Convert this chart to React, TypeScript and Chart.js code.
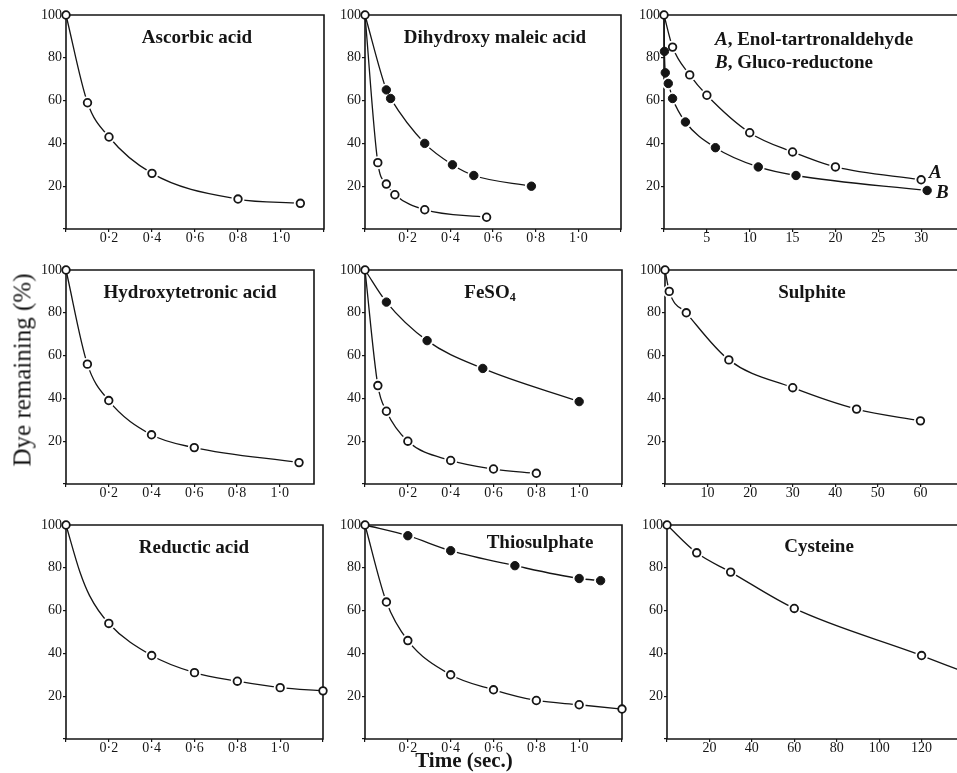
import React, { useEffect, useRef } from 'react';
import { Chart, registerables } from 'chart.js';
Chart.register(...registerables);

// ---------- data (time, % dye remaining) ----------
const ascorbicTime = [0, 0.1, 0.2, 0.4, 0.8, 1.09];
const ascorbicDye = [100, 59, 43, 26, 14, 12];

const dhmFilledTime = [0.1, 0.12, 0.28, 0.41, 0.51, 0.78];
const dhmFilledDye = [65, 61, 40, 30, 25, 20];
const dhmOpenTime = [0, 0.06, 0.1, 0.14, 0.28, 0.57];
const dhmOpenDye = [100, 31, 21, 16, 9, 5.5];

const enolTime = [0, 1, 3, 5, 10, 15, 20, 30];
const enolDye = [100, 85, 72, 62.5, 45, 36, 29, 23];
const glucoTime = [0.05, 0.15, 0.5, 1, 2.5, 6, 11, 15.4, 30.7];
const glucoDye = [83, 73, 68, 61, 50, 38, 29, 25, 18];

const hydroxyTime = [0, 0.1, 0.2, 0.4, 0.6, 1.09];
const hydroxyDye = [100, 56, 39, 23, 17, 10];

const feFilledTime = [0.1, 0.29, 0.55, 1.0];
const feFilledDye = [85, 67, 54, 38.5];
const feOpenTime = [0, 0.06, 0.1, 0.2, 0.4, 0.6, 0.8];
const feOpenDye = [100, 46, 34, 20, 11, 7, 5];

const sulphiteTime = [0, 1, 5, 15, 30, 45, 60];
const sulphiteDye = [100, 90, 80, 58, 45, 35, 29.5];

const reducticTime = [0, 0.2, 0.4, 0.6, 0.8, 1.0, 1.2];
const reducticDye = [100, 54, 39, 31, 27, 24, 22.5];
// points (no marker)
const reducticCurveTime = [0.065, 0.11];
const reducticCurveDye = [78, 67];

const thioFilledTime = [0.2, 0.4, 0.7, 1.0, 1.1];
const thioFilledDye = [95, 88, 81, 75, 74];
const thioOpenTime = [0, 0.1, 0.2, 0.4, 0.6, 0.8, 1.0, 1.2];
const thioOpenDye = [100, 64, 46, 30, 23, 18, 16, 14];

const cysteineTime = [0, 14, 30, 60, 120];
const cysteineDye = [100, 87, 78, 61, 39];
const cysteineCurveTime = [137];
const cysteineCurveDye = [32.5];

const decimalTicks = [0.2, 0.4, 0.6, 0.8, 1.0];
const yTicks = [20, 40, 60, 80, 100];

// ---------- panel descriptions ----------
type Series = {
  t: number[];
  v: number[];
  filled: boolean;
  fromOrigin?: boolean;
  guideT?: number[];
  guideV?: number[];
};
type Title = { parts: { text: string; italic?: boolean; sub?: boolean }[]; x: number; y: number; align: 'center' | 'left' };
type PanelCfg = {
  left: number; top: number; w: number; h: number; padRight: number;
  xMax: number; xStep: number; decimal: boolean; labelled: number[];
  series: Series[]; titles: Title[];
};

const ROW = [15, 270, 525];
const PH = 214;

const panels: PanelCfg[] = [
  {
    left: 66, top: ROW[0], w: 258, h: PH, padRight: 6, xMax: 1.2, xStep: 0.2, decimal: true, labelled: decimalTicks,
    series: [{ t: ascorbicTime, v: ascorbicDye, filled: false }],
    titles: [{ parts: [{ text: 'Ascorbic acid' }], x: 131, y: 23, align: 'center' }],
  },
  {
    left: 365, top: ROW[0], w: 256, h: PH, padRight: 6, xMax: 1.2, xStep: 0.2, decimal: true, labelled: decimalTicks,
    series: [
      { t: dhmFilledTime, v: dhmFilledDye, filled: true, fromOrigin: true },
      { t: dhmOpenTime, v: dhmOpenDye, filled: false },
    ],
    titles: [{ parts: [{ text: 'Dihydroxy maleic acid' }], x: 130, y: 23, align: 'center' }],
  },
  {
    left: 664, top: ROW[0], w: 300, h: PH, padRight: 0, xMax: 35, xStep: 5, decimal: false, labelled: [5, 10, 15, 20, 25, 30],
    series: [
      { t: enolTime, v: enolDye, filled: false },
      { t: glucoTime, v: glucoDye, filled: true, fromOrigin: true },
    ],
    titles: [
      { parts: [{ text: 'A', italic: true }, { text: ', Enol-tartronaldehyde' }], x: 51, y: 25, align: 'left' },
      { parts: [{ text: 'B', italic: true }, { text: ', Gluco-reductone' }], x: 51, y: 48, align: 'left' },
      { parts: [{ text: 'A', italic: true }], x: 265, y: 158, align: 'left' },
      { parts: [{ text: 'B', italic: true }], x: 272, y: 178, align: 'left' },
    ],
  },
  {
    left: 66, top: ROW[1], w: 248, h: PH, padRight: 6, xMax: 1.16, xStep: 0.2, decimal: true, labelled: decimalTicks,
    series: [{ t: hydroxyTime, v: hydroxyDye, filled: false }],
    titles: [{ parts: [{ text: 'Hydroxytetronic acid' }], x: 124, y: 23, align: 'center' }],
  },
  {
    left: 365, top: ROW[1], w: 257, h: PH, padRight: 6, xMax: 1.2, xStep: 0.2, decimal: true, labelled: decimalTicks,
    series: [
      { t: feFilledTime, v: feFilledDye, filled: true, fromOrigin: true },
      { t: feOpenTime, v: feOpenDye, filled: false },
    ],
    titles: [{ parts: [{ text: 'FeSO' }, { text: '4', sub: true }], x: 125, y: 23, align: 'center' }],
  },
  {
    left: 665, top: ROW[1], w: 298, h: PH, padRight: 0, xMax: 70, xStep: 10, decimal: false, labelled: [10, 20, 30, 40, 50, 60],
    series: [{ t: sulphiteTime, v: sulphiteDye, filled: false }],
    titles: [{ parts: [{ text: 'Sulphite' }], x: 147, y: 23, align: 'center' }],
  },
  {
    left: 66, top: ROW[2], w: 257, h: PH, padRight: 6, xMax: 1.2, xStep: 0.2, decimal: true, labelled: decimalTicks,
    series: [{ t: reducticTime, v: reducticDye, filled: false, guideT: reducticCurveTime, guideV: reducticCurveDye }],
    titles: [{ parts: [{ text: 'Reductic acid' }], x: 128, y: 23, align: 'center' }],
  },
  {
    left: 365, top: ROW[2], w: 257, h: PH, padRight: 6, xMax: 1.2, xStep: 0.2, decimal: true, labelled: decimalTicks,
    series: [
      { t: thioFilledTime, v: thioFilledDye, filled: true, fromOrigin: true },
      { t: thioOpenTime, v: thioOpenDye, filled: false },
    ],
    titles: [{ parts: [{ text: 'Thiosulphate' }], x: 175, y: 18, align: 'center' }],
  },
  {
    left: 667, top: ROW[2], w: 297, h: PH, padRight: 0, xMax: 140, xStep: 20, decimal: false, labelled: [20, 40, 60, 80, 100, 120],
    series: [{ t: cysteineTime, v: cysteineDye, filled: false, guideT: cysteineCurveTime, guideV: cysteineCurveDye }],
    titles: [{ parts: [{ text: 'Cysteine' }], x: 152, y: 22, align: 'center' }],
  },
];

const INK = '#151515';
const SERIF = '"Liberation Serif", "DejaVu Serif", serif';
const Y_AXIS_W = 40;
const X_AXIS_H = 24;
const PAD_TOP = 10;

function titleFont(italic?: boolean, sub?: boolean) {
  return `${italic ? 'italic ' : ''}bold ${sub ? 12 : 19}px ${SERIF}`;
}

const decorPlugin = {
  id: 'decor',
  beforeDatasetsDraw(chart: any) {
    const { ctx, chartArea: a } = chart;
    ctx.save();
    ctx.strokeStyle = INK;
    ctx.lineWidth = 1.6;
    ctx.beginPath();
    ctx.moveTo(a.left, a.bottom);
    ctx.lineTo(a.left, a.top);
    ctx.lineTo(a.right, a.top);
    ctx.lineTo(a.right, a.bottom);
    ctx.lineTo(a.left, a.bottom);
    ctx.stroke();
    ctx.restore();
  },
  afterDraw(chart: any) {
    const cfg: PanelCfg = chart.options.plugins.decor.cfg;
    const { ctx, chartArea: a } = chart;
    ctx.save();
    ctx.fillStyle = INK;
    ctx.textBaseline = 'middle';
    cfg.titles.forEach((tt) => {
      let total = 0;
      tt.parts.forEach((p) => {
        ctx.font = titleFont(p.italic, p.sub);
        total += ctx.measureText(p.text).width;
      });
      let x = a.left + tt.x - (tt.align === 'center' ? total / 2 : 0);
      const y = a.top + tt.y;
      tt.parts.forEach((p) => {
        ctx.font = titleFont(p.italic, p.sub);
        ctx.textAlign = 'left';
        ctx.fillText(p.text, x, p.sub ? y + 5 : y);
        x += ctx.measureText(p.text).width;
      });
    });
    ctx.restore();
  },
};

function Panel({ cfg }: { cfg: PanelCfg }) {
  const ref = useRef<HTMLCanvasElement>(null);
  const W = Y_AXIS_W + cfg.w + cfg.padRight;
  const H = PAD_TOP + cfg.h + X_AXIS_H;

  useEffect(() => {
    if (!ref.current) return;
    const datasets: any[] = [];
    cfg.series.forEach((s) => {
      const pts = s.t.map((t, i) => ({ x: t, y: s.v[i] }));
      const guide = s.guideT ? s.guideT.map((t, i) => ({ x: t, y: (s.guideV as number[])[i] })) : [];
      const curve = [...(s.fromOrigin ? [{ x: 0, y: 100 }] : []), ...pts, ...guide].sort((p, q) => p.x - q.x);
      datasets.push({
        data: pts, showLine: false, order: 0, clip: false,
        pointRadius: s.filled ? 4.2 : 3.8,
        pointBackgroundColor: s.filled ? INK : '#ffffff',
        pointBorderColor: INK, pointBorderWidth: s.filled ? 1 : 1.8,
      });
      datasets.push({
        data: pts, showLine: false, order: 1, clip: false,
        pointRadius: (c: any) => {
          const p = pts[c.dataIndex];
          return p && p.x > 0.01 * cfg.xMax && p.x < 0.98 * cfg.xMax ? 6.5 : 0;
        },
        pointBackgroundColor: '#ffffff', pointBorderWidth: 0,
      });
      datasets.push({
        data: curve, showLine: true, order: 2, clip: false, pointRadius: 0,
        borderColor: INK, borderWidth: 1.3, cubicInterpolationMode: 'monotone', fill: false,
      });
    });

    const tickFont = { family: SERIF, size: 14 };
    const chart = new Chart(ref.current, {
      type: 'line',
      data: { datasets },
      plugins: [decorPlugin],
      options: {
        responsive: false,
        animation: false,
        events: [],
        layout: { autoPadding: false, padding: { top: PAD_TOP, right: cfg.padRight, left: 0, bottom: 0 } },
        plugins: { legend: { display: false }, tooltip: { enabled: false }, decor: { cfg } } as any,
        scales: {
          x: {
            type: 'linear', min: 0, max: cfg.xMax,
            afterFit: (s: any) => { s.height = X_AXIS_H; s.paddingLeft = 0; s.paddingRight = 0; },
            border: { display: false },
            grid: { display: true, drawOnChartArea: false, drawTicks: true, tickLength: 3, color: INK, lineWidth: 1.2 },
            ticks: {
              stepSize: cfg.xStep, includeBounds: false, autoSkip: false, maxRotation: 0, padding: -2,
              color: INK, font: tickFont,
              callback: (val: any) => {
                const v = Number(val);
                const hit = cfg.labelled.some((l) => Math.abs(l - v) < 1e-6);
                if (!hit) return '';
                return cfg.decimal ? v.toFixed(1).replace('.', '\u00b7') : String(Math.round(v));
              },
            },
          },
          y: {
            type: 'linear', min: 0, max: 100,
            afterFit: (s: any) => { s.width = Y_AXIS_W; s.paddingTop = 0; s.paddingBottom = 0; },
            border: { display: false },
            grid: { display: true, drawOnChartArea: false, drawTicks: true, tickLength: 3, color: INK, lineWidth: 1.2 },
            ticks: {
              stepSize: 20, padding: 1, color: INK, font: tickFont,
              callback: (val: any) => {
                const v = Number(val);
                return yTicks.includes(v) ? String(v) : '';
              },
            },
          },
        },
      } as any,
    });
    return () => chart.destroy();
  }, [cfg]);

  return (
    <div style={{ position: 'absolute', left: cfg.left - Y_AXIS_W, top: cfg.top - PAD_TOP, width: W, height: H }}>
      <canvas ref={ref} width={W} height={H} style={{ display: 'block', width: W, height: H }} />
    </div>
  );
}

export default function App() {
  return (
    <div style={{ position: 'absolute', left: 0, top: 0, width: 957, height: 773, overflow: 'hidden', background: '#fff' }}>
      {panels.map((p, i) => (
        <Panel key={i} cfg={p} />
      ))}
      <div
        style={{
          position: 'absolute', left: 22, top: 370, transform: 'translate(-50%, -50%) rotate(-90deg)',
          whiteSpace: 'nowrap', fontFamily: SERIF, fontSize: 25, color: INK, lineHeight: 1,
        }}
      >
        Dye remaining (%)
      </div>
      <div
        style={{
          position: 'absolute', left: 464, top: 760, transform: 'translate(-50%, -50%)',
          whiteSpace: 'nowrap', fontFamily: SERIF, fontSize: 21, fontWeight: 'bold', color: INK, lineHeight: 1,
        }}
      >
        Time (sec.)
      </div>
    </div>
  );
}
